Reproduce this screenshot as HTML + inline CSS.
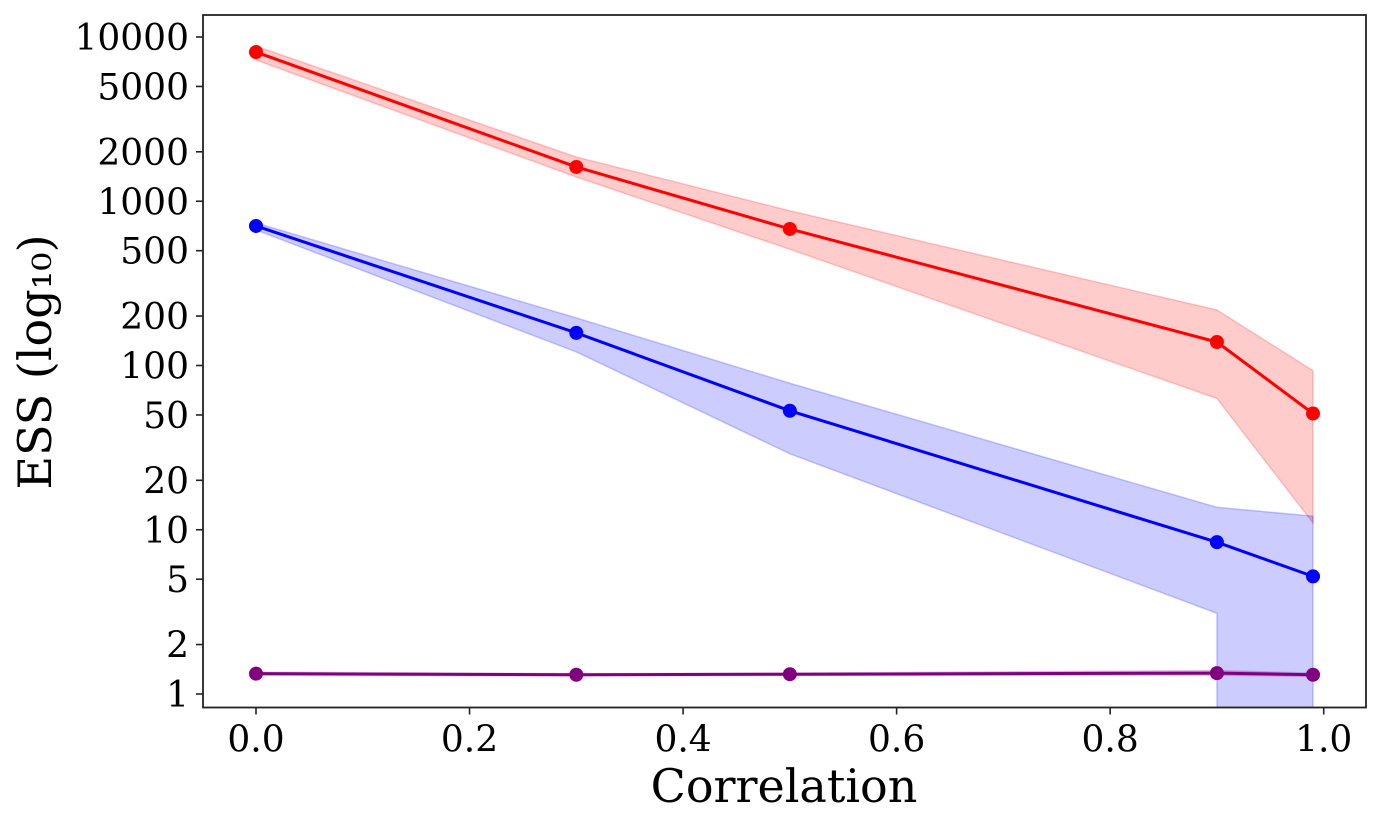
<!DOCTYPE html>
<html><head><meta charset="utf-8"><style>
body{margin:0;background:#fff;}
svg text{font-family:"DejaVu Serif","Liberation Serif",serif;fill:#000;}
</style></head><body>
<svg id="chart" width="1380" height="827" xmlns="http://www.w3.org/2000/svg">
<g id="bands"></g><g id="lines"></g><g id="axes"></g>
</svg>
<script>
const xs = [0, 0.3, 0.5, 0.9, 0.99];
const redMean = [8100, 1617, 678, 139, 51];
const redHi = [8800, 1860, 875, 218, 93];
const redLo = [7250, 1405, 510, 63, 11];
const blueMean = [707, 158, 53, 8.4, 5.2];
const blueHi = [738, 195, 78, 13.7, 12.1];
const blueLo = [668, 121, 29, 3.1, 0];
const purpleMean = [1.33, 1.31, 1.32, 1.34, 1.31];
const purpleHi = [1.36, 1.33, 1.34, 1.39, 1.34];
const purpleLo = [1.30, 1.29, 1.30, 1.30, 1.28];
const xTicks = [0, 0.2, 0.4, 0.6, 0.8, 1.0];
const xTickLabels = ["0.0","0.2","0.4","0.6","0.8","1.0"];
const yTicks = [10000,5000,2000,1000,500,200,100,50,20,10,5,2,1];
const yTickLabels = ["10000","5000","2000","1000","500","200","100","50","20","10","5","2","1"];

const L=203,R=1366,T=15,B=707.5;
const NS="http://www.w3.org/2000/svg";
function X(v){return 256+v*1067.7;}
function Y(v){return 694-Math.log10(v)*164.25;}
function mk(tag,attrs,parent){const e=document.createElementNS(NS,tag);for(const k in attrs)e.setAttribute(k,attrs[k]);parent.appendChild(e);return e;}
const svg=document.getElementById('chart');
const defs=mk('defs',{},svg);
const cp=mk('clipPath',{id:'clip'},defs);
mk('rect',{x:L,y:T,width:R-L,height:B-T},cp);
const bands=document.getElementById('bands');bands.setAttribute('clip-path','url(#clip)');
const lines=document.getElementById('lines');
const axes=document.getElementById('axes');

function series(name,mean,hi,lo,color,fill){
  let pts=xs.map((x,i)=>[X(x),Y(hi[i])]);
  let low=[];
  for(let i=0;i<xs.length;i++){
    if(lo[i]>0) low.push([X(xs[i]),Y(lo[i])]);
    else{ if(i>0) low.push([X(xs[i-1]),B+5]); low.push([X(xs[i]),B+5]); }
  }
  pts=pts.concat(low.reverse());
  const band=mk('polygon',{points:pts.map(p=>p.join(',')).join(' '),fill:fill,'fill-opacity':0.2,stroke:fill,'stroke-opacity':0.2,'stroke-width':1.5},bands);
  
  
  const line=mk('polyline',{points:xs.map((x,i)=>X(x)+','+Y(mean[i])).join(' '),fill:'none',stroke:color,'stroke-width':3},lines);
  
  
  xs.forEach((x,i)=>{
    const c=mk('circle',{cx:X(x),cy:Y(mean[i]),r:7,fill:color},lines);
    
    
  });
}
series('red-series',redMean,redHi,redLo,'#ff0000','#ff0000');
series('blue-series',blueMean,blueHi,blueLo,'#0000ff','#0000ff');
series('purple-series',purpleMean,purpleHi,purpleLo,'#800080','#800080');

const frame=mk('rect',{x:L,y:T,width:R-L,height:B-T,fill:'none',stroke:'#222','stroke-width':1.8},axes);


xTicks.forEach((v,i)=>{
  mk('line',{x1:X(v),x2:X(v),y1:B,y2:B+7,stroke:'#222','stroke-width':1.6},axes);
  const t=mk('text',{x:X(v),y:B+44,'text-anchor':'middle','font-size':36},axes);
  t.textContent=xTickLabels[i];
  
  
});
yTicks.forEach((v,i)=>{
  mk('line',{x1:L-7,x2:L,y1:Y(v),y2:Y(v),stroke:'#222','stroke-width':1.6},axes);
  const t=mk('text',{x:L-14,y:Y(v)+13,'text-anchor':'end','font-size':36},axes);
  t.textContent=yTickLabels[i];
  
  
});
const xl=mk('text',{x:784,y:802,'text-anchor':'middle','font-size':46},axes);
xl.textContent='Correlation';


const yl=mk('text',{x:0,y:0,'text-anchor':'middle','font-size':46,transform:'translate(51,362) rotate(-90)'},axes);
yl.textContent='ESS (log₁₀)';


</script>
</body></html>
